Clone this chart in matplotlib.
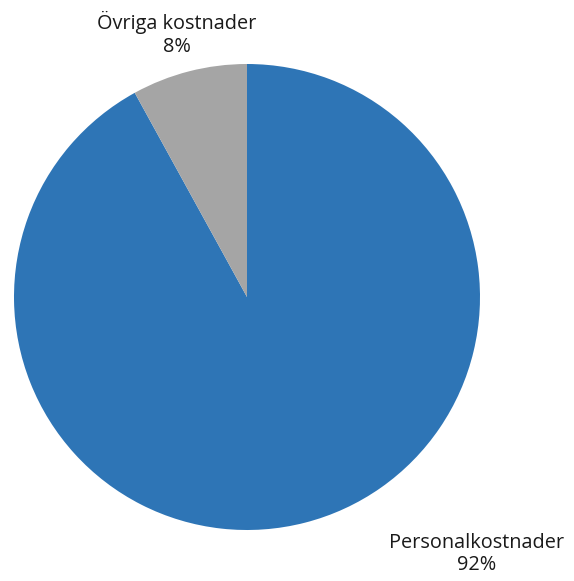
import matplotlib
matplotlib.use("Agg")
import matplotlib.pyplot as plt

categories = ["Personalkostnader", "Övriga kostnader"]
shares = [92, 8]
colors = ["#2E75B6", "#A5A5A5"]

W, H = 574, 581
fig = plt.figure(figsize=(W / 100, H / 100), dpi=100)
ax = fig.add_axes([0, 0, 1, 1])

# pixel-like coordinates, y measured from the bottom
cx, cy, r = 247, H - 297, 233
ax.pie(shares, colors=colors, startangle=90, counterclock=False,
       center=(cx, cy), radius=r, frame=True,
       wedgeprops=dict(linewidth=0))
ax.set_xlim(0, W)
ax.set_ylim(0, H)
ax.set_aspect("equal")
ax.axis("off")

font = dict(family=["Open Sans", "DejaVu Sans"], fontsize=14.3, color="#1a1a1a",
            ha="center", va="center", linespacing=1.2)
ax.text(477, H - 554, f"{categories[0]}\n{shares[0]}%", **font)
ax.text(177, H - 34, f"{categories[1]}\n{shares[1]}%", **font)

fig.savefig("out.png", dpi=100)
